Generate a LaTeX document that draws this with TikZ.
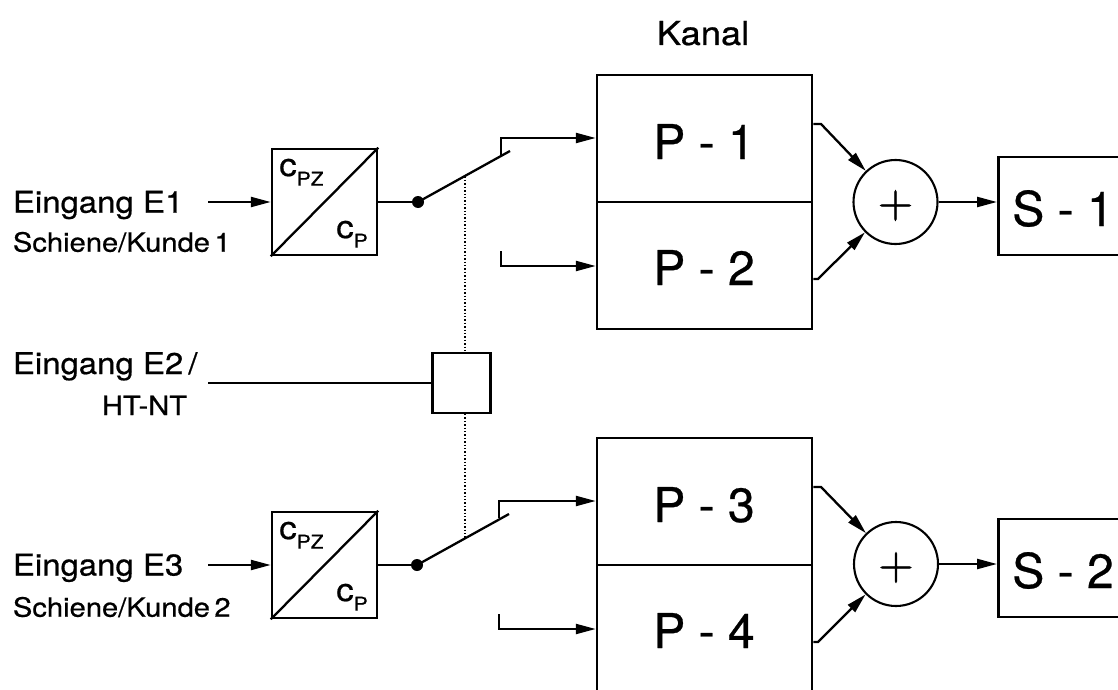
\documentclass[tikz,border=0pt]{standalone}
\usepackage{fontspec}
\setmainfont{TeX Gyre Heros}[FakeBold=0.6]
\newfontfamily\widefont{TeX Gyre Heros}[FakeStretch=1.1,FakeBold=0.6]
\newfontfamily\lmfont{Latin Modern Roman}[FakeBold=1.6]
\usetikzlibrary{arrows.meta}
\begin{document}
\begin{tikzpicture}[x=1pt,y=-1pt,
  boxline/.style={draw,line width=2.5pt},
  wire/.style={line width=2.3pt},
  arr/.style={wire,-{Triangle[length=20pt,width=10pt]}},
  lbl/.style={inner sep=0pt,anchor=base west},
  bigtxt/.style={inner sep=0pt,anchor=base,font=\fontsize{48}{50}\selectfont},
  eing/.style={lbl,font=\widefont\fontsize{30}{32}\selectfont},
  sub/.style={lbl,font=\widefont\fontsize{26.5}{28}\selectfont},
  cfont/.style={lbl,font=\widefont\fontsize{32}{33}\selectfont},
  sumc/.style={draw,circle,line width=2.1pt,minimum size=84pt,inner sep=0pt},
  dotc/.style={circle,fill,inner sep=0pt,minimum size=12pt},
]
\useasboundingbox (0,0) rectangle (1118,690);
\clip (0,0) rectangle (1118,690);

% ---------- Kanal ----------
\node[inner sep=0pt,anchor=base,font=\widefont\fontsize{33}{35}\selectfont] (kanal) at (703,45) {Kanal};

% ---------- upper channel ----------
\node[eing] (e1) at (12.7,212.7) {Eingang E1};
\node[sub] (s1txt) at (12.7,251.7) {Schiene/Kunde\,1};
\node[boxline,rectangle,minimum width=105pt,minimum height=106pt,inner sep=0pt] (conv1) at (324.5,202) {};
\draw[wire] (conv1.south west) -- (conv1.north east);
\node[cfont] (cpz1) at (279,176) {c\raisebox{-0.3em}{\fontsize{19}{20}\selectfont PZ}};
\node[cfont] (cp1) at (336,238) {c\raisebox{-0.3em}{\fontsize{19}{20}\selectfont P}};
\coordinate (in1) at (208,202);
\draw[arr] (in1) -- (conv1.west);
\node[dotc] (dot1) at (418,202) {};
\draw[wire] (conv1.east) -- (dot1.center);
\coordinate (blade1) at (510,151);
\draw[wire] (dot1.center) -- (blade1);

\node[boxline,rectangle,minimum width=215pt,minimum height=127pt,inner sep=0pt] (p1) at (704.5,138.5) {};
\node[boxline,rectangle,minimum width=215pt,minimum height=127pt,inner sep=0pt] (p2) at (704.5,265.5) {};
\node[bigtxt] (p1t) at (704,159) {P - 1};
\node[bigtxt] (p2t) at (704,285) {P - 2};

\coordinate (a1) at (501,155);
\coordinate (a1t) at (501,138);
\draw[arr] (a1) -- (a1t) -- (p1.west |- a1t);
\coordinate (b1) at (501,251);
\coordinate (b1t) at (501,266);
\draw[arr] (b1) -- (b1t) -- (p2.west |- b1t);

\node[sumc] (sum1) at (895.5,202) {};
\node[inner sep=0pt,font=\lmfont\fontsize{48}{48}\selectfont] (plus1) at (895.5,205.5) {+};
\coordinate (o1) at (821,124);
\draw[arr] (p1.east |- o1) -- (o1) -- (sum1);
\coordinate (o2) at (818,279);
\draw[arr] (p2.east |- o2) -- (o2) -- (sum1);

\node[boxline,rectangle,minimum width=160pt,minimum height=98pt,inner sep=0pt,anchor=west] (s1) at (997,206) {};
\node[bigtxt] (s1t) at (1063,226) {S - 1};
\draw[arr] (sum1.east) -- (s1.west |- sum1.east);

% ---------- E2 / HT-NT ----------
\node[eing] (e2) at (12.7,374) {Eingang E2\,/};
\node[sub] (htnt) at (101.7,415) {HT-NT};
\node[draw,line width=2.1pt,rectangle,minimum width=58pt,minimum height=60pt,inner sep=0pt] (sq) at (461.5,383) {};
\coordinate (e2s) at (208,383);
\draw[wire] (e2s) -- (sq.west);
\coordinate (blade1m) at (465,176.5);
\coordinate (blade2m) at (465,538);
\draw[line width=1.4pt,dotted] (blade1m) -- (blade1m |- sq.north);
\draw[line width=1.4pt,dotted] (blade2m |- sq.south) -- (blade2m);

% ---------- lower channel ----------
\node[eing] (e3) at (12.7,575.5) {Eingang E3};
\node[sub] (s2txt) at (12.7,616.7) {Schiene/Kunde\,2};
\node[boxline,rectangle,minimum width=105pt,minimum height=106pt,inner sep=0pt] (conv2) at (324.5,565) {};
\draw[wire] (conv2.south west) -- (conv2.north east);
\node[cfont] (cpz2) at (279,539) {c\raisebox{-0.3em}{\fontsize{19}{20}\selectfont PZ}};
\node[cfont] (cp2) at (336,601) {c\raisebox{-0.3em}{\fontsize{19}{20}\selectfont P}};
\coordinate (in2) at (208,565);
\draw[arr] (in2) -- (conv2.west);
\node[dotc] (dot2) at (417,565) {};
\draw[wire] (conv2.east) -- (dot2.center);
\coordinate (blade2) at (509,514);
\draw[wire] (dot2.center) -- (blade2);

\node[boxline,rectangle,minimum width=215pt,minimum height=127pt,inner sep=0pt] (p3) at (704.5,501.5) {};
\node[boxline,rectangle,minimum width=215pt,minimum height=127pt,inner sep=0pt] (p4) at (704.5,628.5) {};
\node[bigtxt] (p3t) at (704,522) {P - 3};
\node[bigtxt] (p4t) at (704,648) {P - 4};

\coordinate (a2) at (499,518);
\coordinate (a2t) at (499,501);
\draw[arr] (a2) -- (a2t) -- (p3.west |- a2t);
\coordinate (b2) at (499,614);
\coordinate (b2t) at (499,629);
\draw[arr] (b2) -- (b2t) -- (p4.west |- b2t);

\node[sumc] (sum2) at (896,564) {};
\node[inner sep=0pt,font=\lmfont\fontsize{48}{48}\selectfont] (plus2) at (896,567.5) {+};
\coordinate (o3) at (821,487);
\draw[arr] (p3.east |- o3) -- (o3) -- (sum2);
\coordinate (o4) at (818,642);
\draw[arr] (p4.east |- o4) -- (o4) -- (sum2);

\node[boxline,rectangle,minimum width=160pt,minimum height=98pt,inner sep=0pt,anchor=west] (s2) at (997,568) {};
\node[bigtxt] (s2t) at (1063,588) {S - 2};
\draw[arr] (sum2.east) -- (s2.west |- sum2.east);
\end{tikzpicture}
\end{document}
